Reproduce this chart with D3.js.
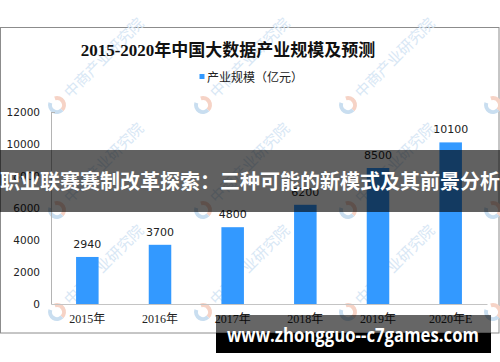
<!DOCTYPE html>
<html>
<head>
<meta charset="utf-8">
<script src="https://cdn.jsdelivr.net/npm/d3@7/dist/d3.min.js"></script>
<style>
  html, body { margin: 0; padding: 0; background: #fff; }
  svg { display: block; }
</style>
</head>
<body>
<div id="chart"></div>
<script>
// chart data
var categories = ["2015年", "2016年", "2017年", "2018年", "2019年", "2020年E"];
var values = [2940, 3700, 4800, 6200, 8500, 10100];
var yTicks = [0, 2000, 4000, 6000, 8000, 10000, 12000];
var chartTitle = "2015-2020年中国大数据产业规模及预测";
var legendLabel = "产业规模（亿元）";
var bannerText = "职业联赛赛制改革探索：三种可能的新模式及其前景分析";
var siteText = "www.zhongguo--c7games.com";
var watermarkText = "中商产业研究院";
var watermarkX = [-88, 57, 203, 348, 493];
var watermarkY = [105, 210, 312];

var width = 500, height = 362;
var svg = d3.select("#chart").append("svg")
    .attr("width", width)
    .attr("height", height);

svg.append("rect").attr("width", width).attr("height", height).attr("fill", "#fff");

// frame of the pasted picture
svg.append("rect")
    .attr("x", 0.5).attr("y", 27.5)
    .attr("width", 498.5).attr("height", 305.5)
    .attr("fill", "#fff")
    .attr("stroke", "#8c8c8c");

// watermarks (behind bars)
var wm = svg.append("g").attr("class", "watermarks");
watermarkY.forEach(function (wy) {
    watermarkX.forEach(function (wx) {
        var g = wm.append("g").attr("transform", "translate(" + wx + "," + wy + ") rotate(-45)");
        var arc = d3.arc().innerRadius(5).outerRadius(9);
        g.append("path").attr("d", arc({ startAngle: Math.PI * 0.15, endAngle: Math.PI * 1.0 }))
            .attr("fill", "#f6d3c6");
        g.append("path").attr("d", arc({ startAngle: Math.PI * 1.0, endAngle: Math.PI * 1.85 }))
            .attr("fill", "#c9def0");
        g.append("text")
            .attr("x", 14).attr("y", 5)
            .attr("font-family", "'Noto Sans CJK SC', sans-serif")
            .attr("font-size", 15)
            .attr("fill", "#d8e7f5")
            .text(watermarkText);
    });
});

// scales
var x = d3.scaleBand().domain(categories).range([51, 487]).paddingInner(0.69).paddingOuter(0.345);
var y = d3.scaleLinear().domain([0, 12000]).range([304, 112]);

// title + legend
svg.append("text")
    .attr("x", 228).attr("y", 56)
    .attr("text-anchor", "middle")
    .style("font-family", "'Liberation Serif', 'DejaVu Serif', 'Noto Sans CJK SC', serif")
    .attr("font-weight", "bold")
    .attr("font-size", 17)
    .attr("fill", "#111")
    .text(chartTitle);

svg.append("rect").attr("x", 199.5).attr("y", 74).attr("width", 5).attr("height", 5).attr("fill", "#3399ff");
svg.append("text")
    .attr("x", 207).attr("y", 82)
    .attr("font-family", "'Noto Sans CJK SC', sans-serif")
    .attr("font-size", 12)
    .attr("fill", "#222")
    .text(legendLabel);

// axes
var yAxis = svg.append("g")
    .attr("transform", "translate(51,0)")
    .call(d3.axisLeft(y).tickValues(yTicks).tickFormat(d3.format("d")).tickSize(0).tickPadding(11));
yAxis.select(".domain").attr("stroke", "#b4b4b4");
yAxis.selectAll("text")
    .style("font-family", "'DejaVu Sans', sans-serif")
    .style("font-size", "10.5px")
    .attr("fill", "#222");
yAxis.append("line").attr("x1", 0).attr("x2", 4).attr("y1", y(12000) + 0.5).attr("y2", y(12000) + 0.5).attr("stroke", "#b4b4b4");

var xAxis = svg.append("g")
    .attr("transform", "translate(0,304)")
    .call(d3.axisBottom(x).tickSize(0).tickSizeOuter(0).tickPadding(10));
xAxis.select(".domain").attr("stroke", "#c4c4c4");
xAxis.selectAll("text")
    .style("font-family", "'Liberation Serif', 'Noto Sans CJK SC', serif")
    .style("font-size", "12px")
    .attr("fill", "#222");

// bars
svg.append("g").selectAll("rect")
    .data(values)
    .enter()
    .append("rect")
    .attr("x", function (d, i) { return x(categories[i]); })
    .attr("y", function (d) { return y(d); })
    .attr("width", x.bandwidth())
    .attr("height", function (d) { return y(0) - y(d); })
    .attr("fill", "#3399ff");

svg.append("g").selectAll("text")
    .data(values)
    .enter()
    .append("text")
    .attr("x", function (d, i) { return x(categories[i]) + x.bandwidth() / 2; })
    .attr("y", function (d) { return y(d) - 9; })
    .attr("text-anchor", "middle")
    .attr("font-family", "'DejaVu Sans', sans-serif")
    .attr("font-size", 11)
    .attr("fill", "#222")
    .text(function (d) { return d; });

// banner overlay
svg.append("rect")
    .attr("x", 0).attr("y", 150)
    .attr("width", width).attr("height", 62)
    .attr("fill", "rgba(0,0,0,0.62)");
svg.append("text")
    .attr("x", 250).attr("y", 188.5)
    .attr("text-anchor", "middle")
    .attr("font-family", "'Noto Sans CJK SC', sans-serif")
    .attr("font-weight", "bold")
    .attr("font-size", 20)
    .attr("fill", "#fff")
    .text(bannerText);

// site caption at the bottom
svg.append("rect")
    .attr("x", 216).attr("y", 315)
    .attr("width", 275).attr("height", 18)
    .attr("fill", "rgba(0,0,0,0.6)");
svg.append("rect")
    .attr("x", 216).attr("y", 333)
    .attr("width", 275).attr("height", 20)
    .attr("fill", "#000");
svg.append("text")
    .attr("x", 227).attr("y", 342)
    .attr("font-family", "'Open Sans', 'DejaVu Sans', sans-serif")
    .attr("font-weight", "bold")
    .attr("font-size", 19)
    .attr("textLength", 252)
    .attr("lengthAdjust", "spacingAndGlyphs")
    .attr("fill", "#fff")
    .text(siteText);
</script>
</body>
</html>
